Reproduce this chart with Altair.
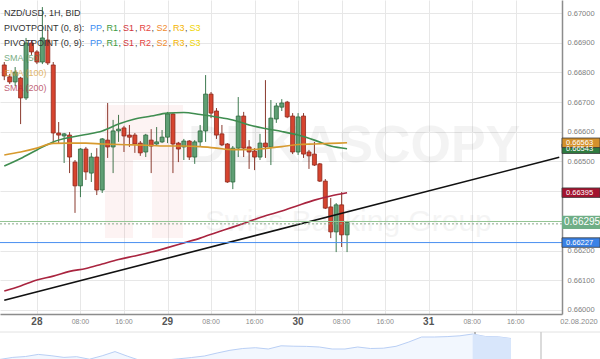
import altair as alt
import pandas as pd

FONT = "Liberation Sans"

# ---------------- data ----------------
first_candle = "2020-07-27 18:00"
opens = [0.66825, 0.66785, 0.66768, 0.66781, 0.66714, 0.66899, 0.66869, 0.66835, 0.66909, 0.66825,
         0.66596, 0.66586, 0.66589, 0.66498, 0.66418, 0.66542, 0.66461, 0.66515, 0.66404, 0.66572,
         0.66549, 0.66603, 0.66613, 0.66589, 0.66589, 0.66562, 0.66532, 0.66572, 0.66559, 0.66566,
         0.66582, 0.66660, 0.66562, 0.66549, 0.66569, 0.66515, 0.66566, 0.66603, 0.66727, 0.66670,
         0.66593, 0.66559, 0.66431, 0.66545, 0.66653, 0.66549, 0.66535, 0.66515, 0.66562, 0.66549,
         0.66643, 0.66683, 0.66700, 0.66653, 0.66532, 0.66653, 0.66532, 0.66525, 0.66492, 0.66434,
         0.66347, 0.66263, 0.66354, 0.66253]
closes = [0.66788, 0.66768, 0.66801, 0.66714, 0.66899, 0.66869, 0.66835, 0.66916, 0.66832, 0.66596,
          0.66589, 0.66593, 0.66515, 0.66418, 0.66542, 0.66465, 0.66515, 0.66404, 0.66576, 0.66549,
          0.66603, 0.66609, 0.66586, 0.66582, 0.66559, 0.66529, 0.66589, 0.66552, 0.66566, 0.66582,
          0.66660, 0.66559, 0.66542, 0.66569, 0.66515, 0.66566, 0.66603, 0.66727, 0.66663, 0.66589,
          0.66556, 0.66431, 0.66545, 0.66653, 0.66545, 0.66532, 0.66515, 0.66562, 0.66549, 0.66646,
          0.66687, 0.66697, 0.66650, 0.66532, 0.66650, 0.66525, 0.66519, 0.66488, 0.66434, 0.66343,
          0.66263, 0.66354, 0.66253, 0.66295]
highs = [0.66835, 0.66795, 0.66818, 0.66785, 0.66916, 0.66909, 0.66875, 0.67020, 0.66943, 0.66835,
         0.66633, 0.66596, 0.66599, 0.66505, 0.66545, 0.66549, 0.66529, 0.66545, 0.66579, 0.66697,
         0.66640, 0.66657, 0.66620, 0.66623, 0.66596, 0.66569, 0.66593, 0.66609, 0.66616, 0.66606,
         0.66667, 0.66663, 0.66566, 0.66576, 0.66572, 0.66572, 0.66623, 0.66791, 0.66734, 0.66680,
         0.66623, 0.66562, 0.66552, 0.66717, 0.66667, 0.66572, 0.66545, 0.66593, 0.66774, 0.66707,
         0.66697, 0.66710, 0.66704, 0.66663, 0.66663, 0.66663, 0.66539, 0.66566, 0.66495, 0.66441,
         0.66377, 0.66360, 0.66397, 0.66300]
lows = [0.66774, 0.66761, 0.66754, 0.66626, 0.66707, 0.66859, 0.66828, 0.66828, 0.66825, 0.66562,
        0.66562, 0.66495, 0.66461, 0.66327, 0.66380, 0.66438, 0.66431, 0.66387, 0.66394, 0.66512,
        0.66461, 0.66566, 0.66532, 0.66549, 0.66529, 0.66519, 0.66515, 0.66461, 0.66556, 0.66562,
        0.66562, 0.66461, 0.66498, 0.66505, 0.66505, 0.66492, 0.66549, 0.66566, 0.66646, 0.66576,
        0.66552, 0.66428, 0.66407, 0.66515, 0.66515, 0.66475, 0.66471, 0.66505, 0.66512, 0.66488,
        0.66630, 0.66670, 0.66646, 0.66525, 0.66522, 0.66512, 0.66475, 0.66485, 0.66431, 0.66340,
        0.66242, 0.66195, 0.66212, 0.66195]

indicator_step = 3  # indicator values read every 3 candles
sma50 = [0.66485, 0.66510, 0.66539, 0.66566, 0.66581, 0.66591, 0.66603, 0.66626, 0.66643, 0.66653,
         0.66663, 0.66665, 0.66658, 0.66650, 0.66640, 0.66623, 0.66611, 0.66601, 0.66589, 0.66572,
         0.66552, 0.66543]
ema100 = [0.66522, 0.66532, 0.66545, 0.66561, 0.66562, 0.66562, 0.66559, 0.66557, 0.66556, 0.66554,
          0.66552, 0.66552, 0.66550, 0.66545, 0.66540, 0.66540, 0.66544, 0.66550, 0.66557, 0.66559,
          0.66561, 0.66563]
sma200 = [0.66064, 0.66081, 0.66101, 0.66114, 0.66130, 0.66140, 0.66155, 0.66170, 0.66182, 0.66195,
          0.66210, 0.66226, 0.66242, 0.66261, 0.66279, 0.66298, 0.66317, 0.66333, 0.66352, 0.66370,
          0.66384, 0.66395]

trend_times = ["2020-07-27T18:00:00Z", "2020-08-01T00:00:00Z"]
trend_values = [0.66033, 0.66514]

level_values = [0.66298, 0.66290, 0.66227]
level_colors = ["#93c593", "#8aa88a", "#4a8ff0"]
level_dashes = [[1, 0], [2, 2], [1, 0]]

current_price = 0.66295
box_values = [0.66543, 0.66563, 0.66395, 0.66227]
box_labels = ["0.66543", "0.66563", "0.66395", "0.66227"]
box_fills = ["#2f7b40", "#d4912c", "#a3142f", "#3a82e6"]

y_ticks = [0.660, 0.661, 0.662, 0.663, 0.664, 0.665, 0.666, 0.667, 0.668, 0.669, 0.670]
day_labels = ["28", "29", "30", "31"]
day_dates = [28, 29, 30, 31]
hour_labels = ["08:00", "16:00"]
hour_hours = [8, 16]
end_label = "02.08.2020"

title_text = "NZD/USD, 1H, BID"
pivot_rows = ["PIVOTPOINT (0, 8):", "PIVOTPOINT (0, 9):"]
pivot_tokens = ["PP", "R1", "S1", "R2", "S2", "R3", "S3"]
pivot_colors = ["#3b8cf2", "#3b9a3e", "#d2343a", "#e5443e", "#f08a2c", "#f4b300", "#efd400"]
ind_names = ["SMA (50)", "EMA (100)", "SMA (200)"]
ind_colors = ["#3f8d50", "#d79a2e", "#a9243f"]

nav_vals = [0.64243, 0.64429, 0.64513, 0.64709, 0.64588, 0.64429, 0.64495, 0.64261, 0.64579, 0.64971,
            0.64532, 0.64131, 0.64093, 0.64187, 0.64299, 0.64420, 0.64560, 0.64840, 0.65092, 0.65260,
            0.65334, 0.65213, 0.65512, 0.65474, 0.65456, 0.65400, 0.65213, 0.65213, 0.65400, 0.65260,
            0.65288, 0.65465, 0.65867, 0.66333, 0.66333, 0.66370, 0.66445, 0.66613, 0.66380, 0.66352,
            0.66193]
nav_selected_from = 37

# ---------------- tables ----------------
times = pd.date_range(first_candle, periods=len(opens), freq="h", tz="UTC")
tstr = list(times.strftime("%Y-%m-%dT%H:%M:%SZ"))
candles = pd.DataFrame({"t": tstr, "o": opens, "c": closes, "h": highs, "l": lows})
up = [c >= o for o, c in zip(opens, closes)]
candles["wick"] = ["#3d7a50" if u else "#8a3a2e" for u in up]
candles["fillc"] = ["#5f9f74" if u else "#d6442f" for u in up]
candles["edge"] = ["#2d6a3f" if u else "#8e2a1d" for u in up]

ind_t = tstr[::indicator_step]
ind_series = [(sma50, ind_colors[0]), (ema100, ind_colors[1]), (sma200, ind_colors[2])]
trend_df = pd.DataFrame({"t": trend_times, "v": trend_values})

BOX_H = 0.00016
boxes_df = pd.DataFrame({"v": box_values, "label": box_labels, "fill": box_fills})
boxes_df["lo"] = boxes_df["v"] - BOX_H
boxes_df["hi"] = boxes_df["v"] + BOX_H
cur_df = pd.DataFrame({"v": [current_price], "label": [f"{current_price:.5f}"]})
cur_df["lo"] = cur_df["v"] - 0.00022
cur_df["hi"] = cur_df["v"] + 0.00022

days_df = pd.DataFrame({"t": [f"2020-07-{d}T00:00:00Z" for d in day_dates], "label": day_labels})
hours_df = pd.DataFrame({"t": [f"2020-07-{d}T{h:02d}:00:00Z" for d in day_dates for h in hour_hours],
                         "label": hour_labels * len(day_dates)})

grid_times = [alt.DateTime(year=2020, month=7, date=d, hours=h, utc=True)
              for d in day_dates for h in [0] + hour_hours]

one = pd.DataFrame({"a": [0]})

# ---------------- shared encodings ----------------
XS = alt.Scale(type="utc", domain=[alt.DateTime(year=2020, month=7, date=27, hours=18, minutes=8, utc=True),
                                   alt.DateTime(year=2020, month=7, date=31, hours=23, minutes=35, utc=True)])
YS = alt.Scale(domain=[0.659865, 0.670438], nice=False, zero=False)
XA = alt.Axis(values=grid_times, labels=False, ticks=False, grid=True, gridColor="#e7e7e7", gridWidth=1,
              domain=True, domainColor="#8c8c8c", domainWidth=1.5, title=None, orient="bottom")
YA = alt.Axis(values=y_ticks, format=".5f", orient="right", labelFontSize=7.5, labelColor="#808080",
              labelFont=FONT, ticks=False, labelPadding=5, grid=True, gridColor="#e7e7e7", gridWidth=1,
              domain=True, domainColor="#8c8c8c", domainWidth=1.5, title=None, labelOverlap=False)


def X(f):
    return alt.X(f"{f}:T", scale=XS, axis=XA)


def Y(f):
    return alt.Y(f"{f}:Q", scale=YS, axis=YA)


# ---------------- watermark ----------------
logo_parts = [(105, 183, 105, 160), (105, 133, 160, 238), (152, 183, 160, 238)]
logo_layers = [
    alt.Chart(one).mark_rect(color="#e23a3a", opacity=0.06).encode(
        x=alt.value(a), x2=alt.value(b), y=alt.value(c), y2=alt.value(d))
    for a, b, c, d in logo_parts
]
wm1 = alt.Chart(pd.DataFrame({"s": ["DUKASCOPY"]})).mark_text(
    font=FONT, fontSize=52, fontWeight="bold", color="#000", opacity=0.045,
    align="left", baseline="middle").encode(x=alt.value(188), y=alt.value(146), text="s:N")
wm2 = alt.Chart(pd.DataFrame({"s": ["Swiss Banking Group"]})).mark_text(
    font=FONT, fontSize=30, color="#000", opacity=0.04, align="left", baseline="middle").encode(
    x=alt.value(205), y=alt.value(222), text="s:N")

# ---------------- candles ----------------
wicks = alt.Chart(candles).mark_rule(strokeWidth=1, clip=True).encode(
    x=X("t"), y=Y("l"), y2="h", color=alt.Color("wick:N", scale=None))
bodies = alt.Chart(candles).mark_bar(size=4, strokeWidth=0.8, clip=True).encode(
    x=X("t"), y=Y("o"), y2="c",
    fill=alt.Fill("fillc:N", scale=None), stroke=alt.Stroke("edge:N", scale=None))

ind_lines = [
    alt.Chart(pd.DataFrame({"t": ind_t, "v": vals})).mark_line(
        strokeWidth=1.6, interpolate="monotone", clip=True, color=col).encode(x=X("t"), y=Y("v"))
    for vals, col in ind_series
]
trend = alt.Chart(trend_df).mark_line(color="#111111", strokeWidth=1.6, clip=True).encode(x=X("t"), y=Y("v"))

levels = [
    alt.Chart(pd.DataFrame({"v": [v]})).mark_rule(clip=True, color=col, strokeWidth=1, strokeDash=dash).encode(
        y=Y("v"))
    for v, col, dash in zip(level_values, level_colors, level_dashes)
]

# ---------------- price boxes on the right axis ----------------
box_rects = alt.Chart(boxes_df).mark_rect(clip=False, stroke="#3a3a3a", strokeWidth=0.8).encode(
    x=alt.value(562), x2=alt.value(600), y=Y("lo"), y2="hi", fill=alt.Fill("fill:N", scale=None))
box_text = alt.Chart(boxes_df).mark_text(clip=False, align="left", baseline="middle", font=FONT,
                                         fontSize=7.5, color="white").encode(
    x=alt.value(566), y=Y("v"), text="label:N")
cur_rect = alt.Chart(cur_df).mark_rect(clip=False, fill="#6fae86").encode(
    x=alt.value(562), x2=alt.value(600), y=Y("lo"), y2="hi")
cur_text = alt.Chart(cur_df).mark_text(clip=False, align="left", baseline="middle", font=FONT,
                                       fontSize=10, color="white").encode(
    x=alt.value(564), y=Y("v"), text="label:N")

# ---------------- x tick labels ----------------
day_text = alt.Chart(days_df).mark_text(clip=False, baseline="middle", font=FONT, fontSize=10,
                                        fontWeight="bold", color="#555555").encode(
    x=X("t"), y=alt.value(322), text="label:N")
hour_text = alt.Chart(hours_df).mark_text(clip=False, baseline="middle", font=FONT, fontSize=7,
                                          color="#8a8a8a").encode(
    x=X("t"), y=alt.value(322), text="label:N")
end_text = alt.Chart(pd.DataFrame({"s": [end_label]})).mark_text(
    clip=False, baseline="middle", font=FONT, fontSize=7.5, color="#8a8a8a").encode(
    x=alt.value(579), y=alt.value(322), text="s:N")

# ---------------- legend text ----------------
txt = dict(align="left", baseline="middle", font=FONT, fontSize=9)
title_l = alt.Chart(pd.DataFrame({"s": [title_text]})).mark_text(color="#333333", **txt).encode(
    x=alt.value(4), y=alt.value(13), text="s:N")
pivot_layers = []
token_x = [90, 106.5, 123, 139.5, 156.5, 173, 189.5]
for row, ypix in zip(pivot_rows, [28, 43]):
    pivot_layers.append(alt.Chart(pd.DataFrame({"s": [row]})).mark_text(color="#333333", **txt).encode(
        x=alt.value(4), y=alt.value(ypix), text="s:N"))
    for k, (tok, col, xp) in enumerate(zip(pivot_tokens, pivot_colors, token_x)):
        pivot_layers.append(alt.Chart(pd.DataFrame({"s": [tok]})).mark_text(color=col, **txt).encode(
            x=alt.value(xp), y=alt.value(ypix), text="s:N"))
        if k < len(pivot_tokens) - 1:
            pivot_layers.append(alt.Chart(pd.DataFrame({"s": [","]})).mark_text(color="#444444", **txt).encode(
                x=alt.value(xp + 12), y=alt.value(ypix), text="s:N"))
ind_text = [
    alt.Chart(pd.DataFrame({"s": [nm]})).mark_text(color=col, opacity=0.7, **txt).encode(
        x=alt.value(4), y=alt.value(yp), text="s:N")
    for nm, col, yp in zip(ind_names, ind_colors, [58, 73, 88])
]

# ---------------- navigator ----------------
nav_df = pd.DataFrame({"i": list(range(len(nav_vals))), "v": nav_vals})
NX = alt.X("i:Q", scale=alt.Scale(domain=[0, len(nav_vals) - 1], range=[0, 511], nice=False, zero=False), axis=None)
NY = alt.Y("v:Q", scale=alt.Scale(domain=[0.640, 0.668], range=[362, 332], nice=False, zero=False), axis=None)
nav_area = alt.Chart(nav_df).mark_area(clip=False, color="#edf3fd",
                                        line={"color": "#b9cff5", "strokeWidth": 1}).encode(
    x=NX, y=NY, y2=alt.datum(0.640))
nav_sel = alt.Chart(nav_df[nav_df["i"] >= nav_selected_from]).mark_area(clip=False, color="#d8e6fb").encode(
    x=NX, y=NY, y2=alt.datum(0.640))
nav = alt.layer(nav_area, nav_sel)

nav_top = alt.Chart(one).mark_rule(color="#e2e2e2", strokeWidth=1, clip=False).encode(
    x=alt.value(0), x2=alt.value(600), y=alt.value(332))
nav_h1 = alt.Chart(one).mark_rule(color="#b5b5b5", strokeWidth=2, clip=False).encode(
    x=alt.value(475), y=alt.value(332), y2=alt.value(359))
nav_h2 = alt.Chart(one).mark_rule(color="#cfcfcf", strokeWidth=1.5, clip=False).encode(
    x=alt.value(541), y=alt.value(332), y2=alt.value(359))

main = alt.layer(
    wicks, *logo_layers, wm1, wm2, bodies, *ind_lines, trend, *levels,
    box_rects, box_text, cur_rect, cur_text,
    day_text, hour_text, end_text, title_l, *pivot_layers, *ind_text,
    nav_top, nav_h1, nav_h2,
)

chart = alt.layer(main, nav).resolve_scale(x="independent", y="independent").properties(
    width=562, height=314,
    padding={"left": 0, "top": 0, "right": 38, "bottom": 45},
    autosize=alt.AutoSizeParams(type="none"),
    background="white",
).configure_view(stroke=None)

chart.save("out.html", embed_options={"renderer": "svg", "actions": False})
